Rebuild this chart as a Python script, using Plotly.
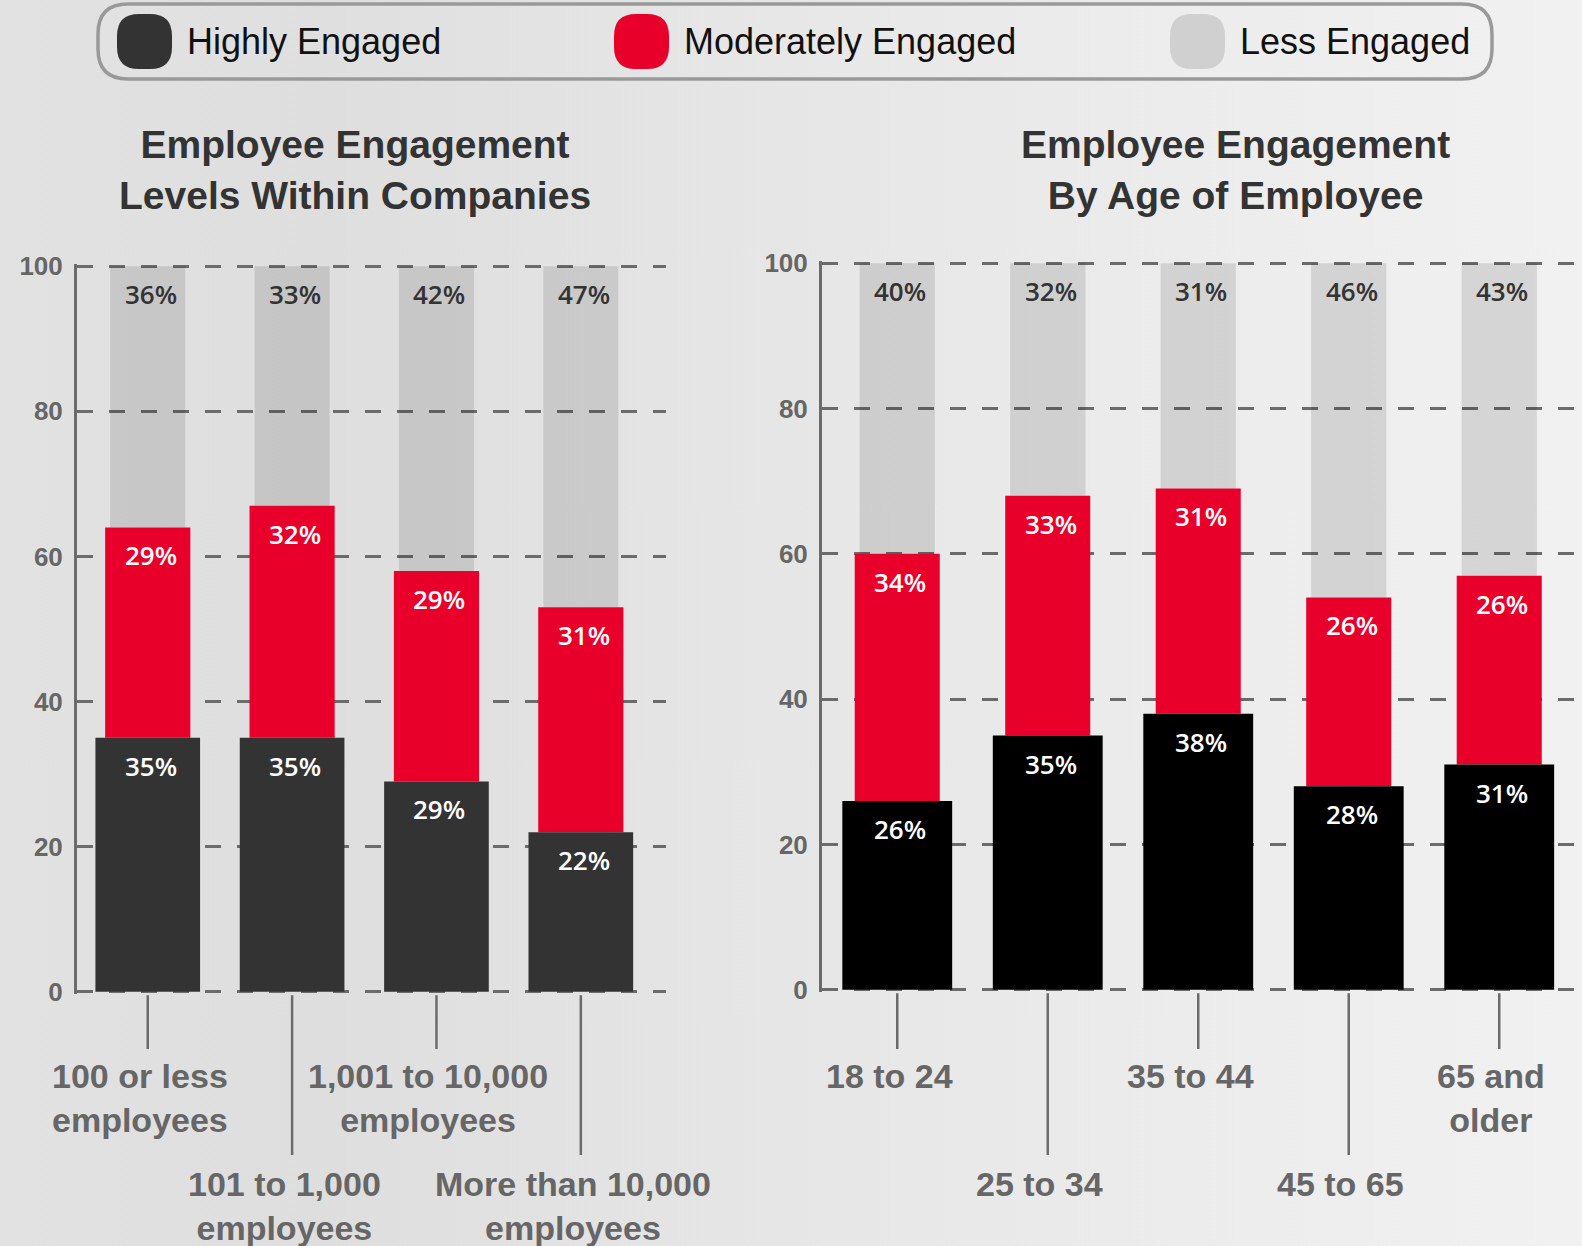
import plotly.graph_objects as go

# legend entries
series_names = ["Highly Engaged", "Moderately Engaged", "Less Engaged"]

# left panel: company size
company_sizes = ["100 or less<br>employees", "101 to 1,000<br>employees",
                 "1,001 to 10,000<br>employees", "More than 10,000<br>employees"]
company_high = [35, 35, 29, 22]
company_moderate = [29, 32, 29, 31]
company_less = [36, 33, 42, 47]

# right panel: age of employee
age_groups = ["18 to 24", "25 to 34", "35 to 44", "45 to 65", "65 and<br>older"]
age_high = [26, 35, 38, 28, 31]
age_moderate = [34, 33, 31, 26, 26]
age_less = [40, 32, 31, 46, 43]

W, H = 1582, 1246
RED = "#e8002b"
GRID = "#6b6b6b"
LABEL_FONT = "Liberation Sans, Arial, sans-serif"
PCT_FONT = "Open Sans, Noto Sans, sans-serif"


def px(x):
    return x / W


def py(y):
    return 1 - y / H


def rounded_rect(x0, y0, x1, y1, r):
    # path in paper coords from pixel box
    rx, ry = r / W, r / H
    a, b, c, d = px(x0), px(x1), py(y0), py(y1)
    return (f"M {a + rx},{c} L {b - rx},{c} Q {b},{c} {b},{c - ry} "
            f"L {b},{d + ry} Q {b},{d} {b - rx},{d} L {a + rx},{d} "
            f"Q {a},{d} {a},{d + ry} L {a},{c - ry} Q {a},{c} {a + rx},{c} Z")


fig = go.Figure()

# soft background gradient on a hidden full-page axis
fig.add_trace(go.Scatter(
    x=[0, 1, 1, 0, 0], y=[0, 0, 1, 1, 0], mode="lines", line=dict(width=0),
    fill="toself", hoverinfo="skip", showlegend=False,
    fillgradient=dict(type="horizontal",
                      colorscale=[[0, "#e2e2e2"], [0.2, "#dedede"], [0.45, "#e5e5e5"],
                                  [0.75, "#ececec"], [1, "#f1f1f1"]]),
    xaxis="x", yaxis="y",
))


def add_panel(ax, cats, high, mod, less, dark, widths, title, title_x):
    xa, ya = "x" + ax, "y" + ax
    idx = list(range(len(cats)))
    tops = [h + m for h, m in zip(high, mod)]
    fig.add_trace(go.Bar(x=idx, y=less, base=tops, width=widths[0],
                         marker=dict(color="rgba(0,0,0,0.11)", line=dict(width=0)),
                         xaxis=xa, yaxis=ya, showlegend=False, hoverinfo="skip"))
    fig.add_trace(go.Bar(x=idx, y=mod, base=high, width=widths[1],
                         marker=dict(color=RED, line=dict(width=0)),
                         xaxis=xa, yaxis=ya, showlegend=False, hoverinfo="skip"))
    fig.add_trace(go.Bar(x=idx, y=high, width=widths[2],
                         marker=dict(color=dark, line=dict(width=0)),
                         xaxis=xa, yaxis=ya, showlegend=False, hoverinfo="skip"))

    for i in idx:
        for val, yv, col in [(less[i], 100, "#333333"), (mod[i], tops[i], "white"),
                             (high[i], high[i], "white")]:
            fig.add_annotation(x=i, y=yv, xref=xa, yref=ya, text=f"{val}%",
                               showarrow=False, yshift=-28, yanchor="middle", xshift=3,
                               font=dict(family=PCT_FONT, size=26, color=col, weight=600))

    # staggered category ticks and labels
    base_y = fig.layout["yaxis" + ax].domain[0]
    for i, cat in enumerate(cats):
        short = i % 2 == 0
        fig.add_shape(type="line", xref=xa, yref="paper", x0=i, x1=i,
                      y0=base_y - 0.001, y1=py(1049 if short else 1155),
                      line=dict(color=GRID, width=2.5))
        fig.add_annotation(x=i, y=py(1055 if short else 1163), xref=xa, yref="paper",
                           text=cat, showarrow=False, yanchor="top", xanchor="center",
                           xshift=-8,
                           font=dict(family=LABEL_FONT, size=34, color="#666666", weight="bold"))

    fig.add_annotation(x=title_x, y=py(121), xref="paper", yref="paper",
                       text=title, showarrow=False, yanchor="top", xanchor="center",
                       font=dict(family=LABEL_FONT, size=39, color="#333333", weight="bold"))


axis_common = dict(showgrid=False, zeroline=False, showticklabels=False, ticks="",
                   fixedrange=True, automargin=False)
yaxis_common = dict(range=[-0.3, 100.3], tickvals=[0, 20, 40, 60, 80, 100],
                    showgrid=True, gridcolor=GRID, gridwidth=3, griddash="16px,16px",
                    zeroline=False, showline=True, linecolor=GRID, linewidth=3,
                    ticks="inside", ticklen=6, tickwidth=3, tickcolor=GRID,
                    ticklabelstandoff=6, automargin=False, fixedrange=True,
                    tickfont=dict(family=LABEL_FONT, size=26, color="#666666",
                                  weight="bold"))

fig.update_layout(
    template="none",
    width=W, height=H, margin=dict(l=0, r=0, t=0, b=0, pad=0, autoexpand=False),
    paper_bgcolor="#e6e6e6", plot_bgcolor="rgba(0,0,0,0)",
    barmode="overlay", showlegend=False,
    xaxis=dict(domain=[0, 1], range=[0, 1], visible=False, fixedrange=True, automargin=False),
    yaxis=dict(domain=[0, 1], range=[0, 1], visible=False, fixedrange=True, automargin=False),
    xaxis2=dict(domain=[px(77), px(666)], range=[-0.49, 3.59], anchor="y2", **axis_common),
    yaxis2=dict(domain=[py(994), py(264)], anchor="x2", **yaxis_common),
    xaxis3=dict(domain=[px(822), 1], range=[-0.5, 4.55], anchor="y3", **axis_common),
    yaxis3=dict(domain=[py(992), py(261)], anchor="x3", **yaxis_common),
)

add_panel("2", company_sizes, company_high, company_moderate, company_less,
          "#333333", [0.52, 0.59, 0.725],
          "Employee Engagement<br>Levels Within Companies", px(355))
add_panel("3", age_groups, age_high, age_moderate, age_less,
          "#000000", [0.50, 0.565, 0.73],
          "Employee Engagement<br>By Age of Employee", px(1235))

# custom legend box
fig.add_shape(type="path", xref="paper", yref="paper",
              path=rounded_rect(98, 4, 1492, 79, 30),
              line=dict(color="#999999", width=3.5), fillcolor="rgba(255,255,255,0.05)")
legend_colors = ["#333333", RED, "#d0d0d0"]
legend_x = [117, 614, 1170]
for name, col, lx in zip(series_names, legend_colors, legend_x):
    fig.add_shape(type="path", xref="paper", yref="paper",
                  path=rounded_rect(lx, 14, lx + 55, 69, 22),
                  line=dict(width=0), fillcolor=col)
    fig.add_annotation(x=px(lx + 68), y=py(41), xref="paper", yref="paper",
                       text=name, showarrow=False, xanchor="left", yanchor="middle",
                       font=dict(family=LABEL_FONT, size=36, color="#111111"))

fig.write_html("out.html", config={"displayModeBar": False},
               post_script="document.body.style.margin='0';")
